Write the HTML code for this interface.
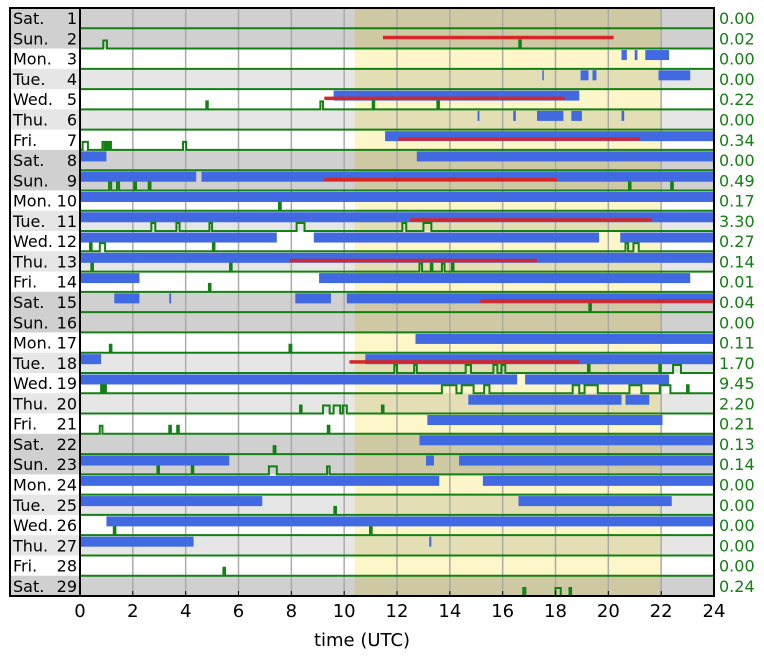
<!DOCTYPE html>
<html><head><meta charset="utf-8">
<style>
html,body{margin:0;padding:0;background:#fff;}
svg{display:block;font-family:"DejaVu Sans","Liberation Sans",sans-serif;}
</style></head>
<body>
<svg id="chart" width="764" height="658" viewBox="0 0 764 658"></svg>
<script>
const dayNames = ["Sat.","Sun.","Mon.","Tue.","Wed.","Thu.","Fri.","Sat.","Sun.","Mon.","Tue.","Wed.","Thu.","Fri.","Sat.","Sun.","Mon.","Tue.","Wed.","Thu.","Fri.","Sat.","Sun.","Mon.","Tue.","Wed.","Thu.","Fri.","Sat."];
const dayNums = [1,2,3,4,5,6,7,8,9,10,11,12,13,14,15,16,17,18,19,20,21,22,23,24,25,26,27,28,29];
const totals = ["0.00","0.02","0.00","0.00","0.22","0.00","0.34","0.00","0.49","0.17","3.30","0.27","0.14","0.01","0.04","0.00","0.11","1.70","9.45","2.20","0.21","0.13","0.14","0.00","0.00","0.00","0.00","0.00","0.24"];
const blueIntervals = [
 [],[],
 [[20.5,20.7],[21.0,21.1],[21.4,22.3]],
 [[17.5,17.55],[18.95,19.25],[19.4,19.55],[21.9,23.1]],
 [[9.6,18.9]],
 [[15.05,15.12],[16.4,16.5],[17.3,18.3],[18.6,19.0],[20.5,20.6]],
 [[11.55,24]],
 [[0,1.0],[12.75,24]],
 [[0,4.4],[4.6,24]],
 [[0,24]],
 [[0,24]],
 [[0,7.45],[8.85,19.65],[20.45,24]],
 [[0,24]],
 [[0,2.25],[9.05,23.1]],
 [[1.3,2.25],[3.38,3.45],[8.15,9.5],[10.1,24]],
 [],
 [[12.7,24]],
 [[0,0.8],[10.8,24]],
 [[0,16.55],[16.85,22.3]],
 [[14.7,20.5],[20.65,21.55]],
 [[13.15,22.05]],
 [[12.85,24]],
 [[0,5.65],[13.1,13.4],[14.35,24]],
 [[0,13.6],[15.25,24]],
 [[0,6.9],[16.6,22.4]],
 [[1.0,24]],
 [[0,4.3],[13.22,13.3]],
 [],[]
];
const redIntervals = [
 [],[[11.47,20.2]],[],[],[[9.25,18.35]],[],[[12.05,21.2]],[],[[9.25,18.05]],[],
 [[12.5,21.65]],[],[[7.95,17.3]],[],[[15.15,24]],[],[],[[10.2,18.9]],[],[],
 [],[],[],[],[],[],[],[],[]
];
const greenPulses = [
 [],
 [[0.88,1.02],[16.63,16.68]],
 [],[],
 [[4.78,4.83],[9.1,9.2],[11.08,11.13],[13.53,13.58]],
 [],
 [[0.1,0.3],[0.85,0.93],[0.98,1.05],[1.1,1.17],[3.9,4.02]],
 [],
 [[1.1,1.18],[1.4,1.48],[2.05,2.12],[2.6,2.67],[20.78,20.84],[22.38,22.44]],
 [[7.53,7.6]],
 [[2.7,2.85],[3.65,3.77],[4.9,5.0],[8.2,8.5],[12.2,12.35],[13.0,13.3]],
 [[0.38,0.44],[0.75,0.95],[5.03,5.09],[20.65,20.75],[20.95,21.15]],
 [[0.43,0.49],[5.68,5.74],[12.85,12.95],[13.28,13.34],[13.7,13.8],[14.08,14.14]],
 [[4.88,4.94]],
 [[19.28,19.34]],
 [],
 [[1.13,1.19],[7.93,8.0]],
 [[11.9,12.0],[12.65,12.75],[14.6,14.8],[15.65,15.8],[15.95,16.1],[19.23,19.29],[21.93,21.99],[22.45,22.75]],
 [[0.8,0.87],[0.92,0.98],[13.7,14.25],[14.45,14.9],[15.3,15.5],[18.65,18.9],[19.1,19.6],[20.8,21.25],[21.95,22.35],[22.98,23.04]],
 [[8.33,8.39],[9.2,9.45],[9.6,9.85],[9.95,10.1],[11.43,11.49]],
 [[0.75,0.85],[3.38,3.44],[3.68,3.74],[9.38,9.44]],
 [[7.33,7.4]],
 [[2.93,2.99],[4.23,4.29],[7.15,7.45],[9.35,9.45]],
 [],
 [[9.63,9.69]],
 [[1.28,1.34],[10.98,11.04]],
 [],
 [[5.43,5.49]],
 [[16.78,16.86],[18.0,18.2],[18.53,18.59]]
];
const xTicks = [0,2,4,6,8,10,12,14,16,18,20,22,24];
const daylightStart = 10.4, daylightEnd = 22.0;

const svg = document.getElementById('chart');
const NS = "http://www.w3.org/2000/svg";
const X0 = 80, X1 = 714, Y0 = 8, Y1 = 596, LX = 10;
const N = dayNames.length, RH = (Y1 - Y0) / N;
const xs = h => X0 + (X1 - X0) * h / 24;
const rowTop = i => Y0 + i * RH;
function mk(tag, attrs, parent) {
  const e = document.createElementNS(NS, tag);
  for (const k in attrs) e.setAttribute(k, attrs[k]);
  (parent || svg).appendChild(e);
  return e;
}
function bg(name) {
  if (name === "Sat." || name === "Sun.") return "#d0d0d0";
  if (name === "Tue." || name === "Thu.") return "#e6e6e6";
  return "#ffffff";
}
for (let i = 0; i < N; i++) {
  const r = mk('rect', {x: LX, y: rowTop(i), width: X1 - LX, height: RH + 0.5, fill: bg(dayNames[i])});
  
  
  const t1 = mk('text', {x: 13, y: rowTop(i) + RH / 2 + 6, 'font-size': 16, fill: '#000'});
  t1.textContent = dayNames[i];
  
  
  const t2 = mk('text', {x: 77, y: rowTop(i) + RH / 2 + 6, 'font-size': 16, fill: '#000', 'text-anchor': 'end'});
  t2.textContent = dayNums[i];
  
  
  const t3 = mk('text', {x: 719, y: rowTop(i) + RH / 2 + 6, 'font-size': 16, fill: '#138013'});
  t3.textContent = totals[i];
  
  
}
const band = mk('rect', {x: xs(daylightStart), y: Y0, width: xs(daylightEnd) - xs(daylightStart), height: Y1 - Y0, fill: '#fdf6c8', style: 'mix-blend-mode:multiply'});


xTicks.forEach(v => {
  if (v === 0 || v === 24) return;
  const g = mk('line', {x1: xs(v), x2: xs(v), y1: Y0, y2: Y1, stroke: '#aaaaaa', 'stroke-width': 1.5});
  
  
});
for (let i = 0; i < N; i++) {
  const top = rowTop(i), bot = top + RH;
  blueIntervals[i].forEach(([a, b]) => {
    const r = mk('rect', {x: xs(a), y: top + 1.5, width: Math.max(1.5, xs(b) - xs(a)), height: 10, fill: '#4169e1'});
    
    
  });
  redIntervals[i].forEach(([a, b]) => {
    const r = mk('rect', {x: xs(a), y: top + 7.5, width: xs(b) - xs(a), height: 3.5, fill: '#d62728'});
    
    
  });
  let d = `M${X0},${bot}`;
  greenPulses[i].forEach(([a, b]) => {
    const xa = xs(a), xb = Math.max(xs(b), xs(a) + 1.5);
    d += ` L${xa},${bot} L${xa},${bot - 8} L${xb},${bot - 8} L${xb},${bot}`;
  });
  d += ` L${X1},${bot}`;
  const p = mk('path', {d: d, fill: 'none', stroke: '#138013', 'stroke-width': 2});
  
  
}
const f1 = mk('rect', {x: LX, y: Y0, width: X1 - LX, height: Y1 - Y0, fill: 'none', stroke: '#000', 'stroke-width': 2});


const f2 = mk('line', {x1: X0, x2: X0, y1: Y0, y2: Y1, stroke: '#000', 'stroke-width': 2});


xTicks.forEach(v => {
  const tk = mk('line', {x1: xs(v), x2: xs(v), y1: Y1, y2: Y1 - 5, stroke: '#000', 'stroke-width': 1});
  
  
  const t = mk('text', {x: xs(v), y: 617, 'font-size': 18, 'text-anchor': 'middle', fill: '#000'});
  t.textContent = v;
  
  
});
const xt = mk('text', {x: 362, y: 646, 'font-size': 18, 'text-anchor': 'middle', fill: '#000'});
xt.textContent = "time (UTC)";


</script>
</body></html>
